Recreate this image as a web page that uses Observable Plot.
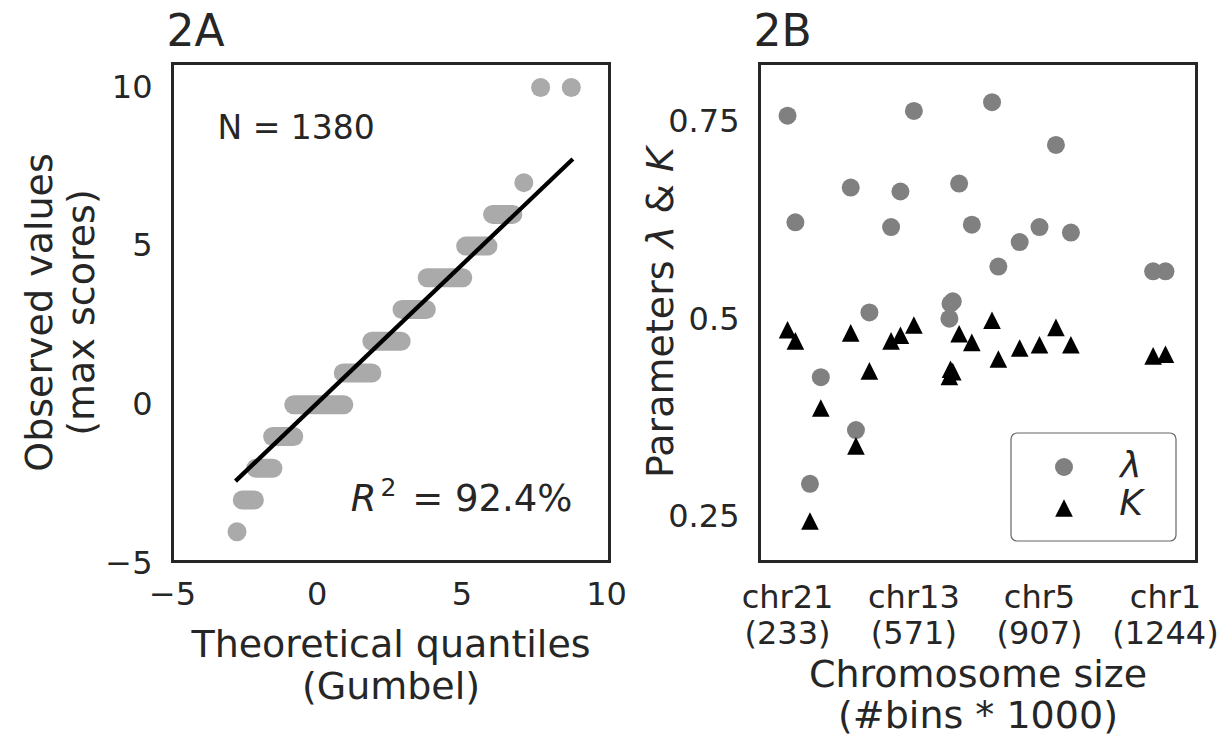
<!DOCTYPE html>
<html>
<head>
<meta charset="utf-8">
<script src="https://cdn.jsdelivr.net/npm/d3@7"></script>
<script src="https://cdn.jsdelivr.net/npm/@observablehq/plot@0.6"></script>
<style>
  body { margin: 0; background: #ffffff; }
  #wrap { position: relative; width: 1225px; height: 737px; background: #ffffff; overflow: hidden; }
  #wrap svg { position: absolute; top: 0; }
</style>
</head>
<body>
<div id="wrap"></div>
<script>
// ---------------- Panel 2A : Gumbel QQ plot ----------------
// observed max-score levels and the range of theoretical quantiles each level spans
const qqLevel = [-4, -3, -2, -1, 0, 1, 2, 3, 4, 5, 6, 7, 10, 10];
const qqStart = [-2.77, -2.59, -2.12, -1.54, -0.81, 0.90, 1.89, 2.93, 3.80, 5.13, 6.06, 7.14, 7.72, 8.78];
const qqEnd   = [-2.77, -2.17, -1.53, -0.81, 0.92, 1.89, 2.90, 3.77, 5.03, 5.90, 6.76, 7.14, 7.72, 8.78];
// fitted line end points
const fitX = [-2.77, 8.78];
const fitY = [-2.36, 7.70];
const qqTicks = [-5, 0, 5, 10];
const qqN = "N = 1380";
const qqR2 = "92.4%";

// ---------------- Panel 2B : Gumbel parameters per chromosome ----------------
const chromosomes = ["chr1","chr2","chr3","chr4","chr5","chr6","chr7","chr8","chr9","chr10","chr11","chr12",
                     "chr13","chr14","chr15","chr16","chr17","chr18","chr19","chr20","chr21","chr22","chrX"];
const chromSize   = [1244, 1211, 991, 951, 907, 854, 797, 726, 692, 669, 675, 666,
                     571, 535, 510, 452, 416, 402, 293, 322, 233, 254, 780];
const lambdaVals  = [0.561, 0.561, 0.610, 0.721, 0.617, 0.598, 0.567, 0.620, 0.672, 0.520, 0.523, 0.501,
                     0.764, 0.662, 0.617, 0.509, 0.360, 0.667, 0.292, 0.427, 0.758, 0.623, 0.775];
const kVals       = [0.456, 0.454, 0.468, 0.490, 0.468, 0.464, 0.450, 0.471, 0.482, 0.437, 0.434, 0.428,
                     0.493, 0.480, 0.473, 0.435, 0.340, 0.483, 0.245, 0.388, 0.487, 0.473, 0.499];
const sizeTicks = [233, 571, 907, 1244];
const sizeTickNames = ["chr21", "chr13", "chr5", "chr1"];
const paramTicks = [0.25, 0.5, 0.75];

// ---------------- styling ----------------
const ink = "#262626";
const FONT = "DejaVu Sans";
const fmtSigned = d => d < 0 ? "\u2212" + Math.abs(d) : String(d);

// matplotlib-like '^' marker (bounding box centred)
const triangleUp = {
  draw(ctx, size) {
    const r = Math.sqrt(size / Math.PI);
    ctx.moveTo(0, -r); ctx.lineTo(r, r); ctx.lineTo(-r, r); ctx.closePath();
  }
};

const wrap = document.getElementById("wrap");

// ---------------- build panel A ----------------
const runs = qqLevel.map((y, i) => ({y, x1: qqStart[i], x2: qqEnd[i]}));
const fit = [{x1: fitX[0], y1: fitY[0], x2: fitX[1], y2: fitY[1]}];

const plotA = Plot.plot({
  width: 612, height: 737,
  marginLeft: 172, marginRight: 3, marginTop: 63, marginBottom: 176,
  style: {fontFamily: FONT, fontSize: "32px", color: ink, background: "transparent", overflow: "visible"},
  x: {domain: [-5, 10.1]},
  y: {domain: [-4.94, 10.755]},
  marks: [
    Plot.link(runs, {x1: "x1", x2: "x2", y1: "y", y2: "y", stroke: "#aaaaaa", strokeWidth: 19, strokeLinecap: "round"}),
    Plot.link(fit, {x1: "x1", y1: "y1", x2: "x2", y2: "y2", stroke: "#000000", strokeWidth: 4.3, strokeLinecap: "square"}),
    Plot.frame({stroke: ink, strokeWidth: 3}),
    Plot.axisX({ticks: qqTicks, tickFormat: fmtSigned, tickSize: 0, tickPadding: 21, fontSize: 32, label: null}),
    Plot.axisY({ticks: qqTicks, tickFormat: fmtSigned, tickSize: 0, tickPadding: 20, fontSize: 32, label: null}),
    Plot.text([qqN], {frameAnchor: "top-left", textAnchor: "start", lineAnchor: "bottom", dx: 45, dy: 75, fontSize: 33}),
    Plot.text(["R2 = " + qqR2], {frameAnchor: "bottom-right", textAnchor: "end", lineAnchor: "bottom", dx: -37, dy: -51, fontSize: 37}),
    Plot.text(["Theoretical quantiles\n(Gumbel)"], {frameAnchor: "bottom", textAnchor: "middle", lineAnchor: "top", dy: 65, fontSize: 38, lineHeight: 1.12}),
    Plot.text(["Observed values\n(max scores)"], {frameAnchor: "left", rotate: -90, textAnchor: "middle", lineAnchor: "middle", dx: -113, fontSize: 38, lineHeight: 1.12}),
    Plot.text(["2A"], {frameAnchor: "top-left", textAnchor: "start", lineAnchor: "bottom", dx: -6, dy: -18, fontSize: 44})
  ]
});
plotA.style.left = "0px";
wrap.appendChild(plotA);

// R^2 with italic R and superscript 2
d3.select(plotA).selectAll("text").each(function () {
  if (this.textContent === "R2 = " + qqR2) {
    const t = d3.select(this);
    t.text(null);
    t.append("tspan").attr("font-style", "italic").text("R");
    t.append("tspan").attr("font-size", "25px").attr("dx", "4").attr("dy", "-15").text("2");
    t.append("tspan").attr("dy", "15").attr("dx", "4").text("\u00a0= " + qqR2);
  }
});

// ---------------- build panel B ----------------
const chromRows = chromosomes.map((c, i) => ({c, size: chromSize[i], lambda: lambdaVals[i], k: kVals[i]}));

const plotB = Plot.plot({
  width: 613, height: 737,
  marginLeft: 147, marginRight: 29, marginTop: 63, marginBottom: 176,
  style: {fontFamily: FONT, fontSize: "32px", color: ink, background: "transparent", overflow: "visible"},
  x: {domain: [158, 1327]},
  y: {domain: [0.1937, 0.824]},
  marks: [
    Plot.dot(chromRows, {x: "size", y: "lambda", r: 9, fill: "#808080"}),
    Plot.dot(chromRows, {x: "size", y: "k", r: 8.8, fill: "#000000", symbol: triangleUp}),
    Plot.frame({stroke: ink, strokeWidth: 3}),
    Plot.axisX({ticks: sizeTicks, tickFormat: (d, i) => `${sizeTickNames[i]}\n(${d})`, tickSize: 0, tickPadding: 21, fontSize: 32, lineHeight: 1.12, label: null}),
    Plot.axisY({ticks: paramTicks, tickFormat: d => String(d), tickSize: 0, tickPadding: 20, fontSize: 32, label: null}),
    Plot.text(["Chromosome size\n(#bins * 1000)"], {frameAnchor: "bottom", textAnchor: "middle", lineAnchor: "top", dy: 96, fontSize: 38, lineHeight: 1.08}),
    Plot.text(["Parameters \u03bb & K"], {frameAnchor: "left", rotate: -90, textAnchor: "middle", lineAnchor: "middle", dx: -99, fontSize: 38}),
    Plot.text(["2B"], {frameAnchor: "top-left", textAnchor: "start", lineAnchor: "bottom", dx: -6, dy: -18, fontSize: 44})
  ]
});
plotB.style.left = "612px";
wrap.appendChild(plotB);

// italic λ and K in the y label
d3.select(plotB).selectAll("text").each(function () {
  if (this.textContent === "Parameters \u03bb & K") {
    const t = d3.select(this);
    t.text(null);
    t.append("tspan").text("Parameters\u00a0");
    t.append("tspan").attr("font-style", "italic").text("\u03bb");
    t.append("tspan").text("\u00a0&\u00a0");
    t.append("tspan").attr("font-style", "italic").text("K");
  }
});

// legend box
const lg = d3.select(plotB).append("g")
  .attr("transform", `translate(${1011 - 612},433)`)
  .attr("font-family", FONT).attr("fill", ink);
lg.append("rect").attr("width", 165).attr("height", 108).attr("rx", 6)
  .attr("fill", "#ffffff").attr("stroke", "#666666").attr("stroke-width", 1.2);
lg.append("circle").attr("cx", 53).attr("cy", 34).attr("r", 9).attr("fill", "#808080");
lg.append("path").attr("d", d3.symbol(triangleUp, Math.PI * 8.8 * 8.8)())
  .attr("transform", "translate(53,75)").attr("fill", "#000000");
lg.append("text").attr("x", 120).attr("y", 44).attr("font-size", 36).attr("font-style", "italic").text("\u03bb");
lg.append("text").attr("x", 120).attr("y", 82).attr("font-size", 36).attr("font-style", "italic").text("K");
</script>
</body>
</html>
